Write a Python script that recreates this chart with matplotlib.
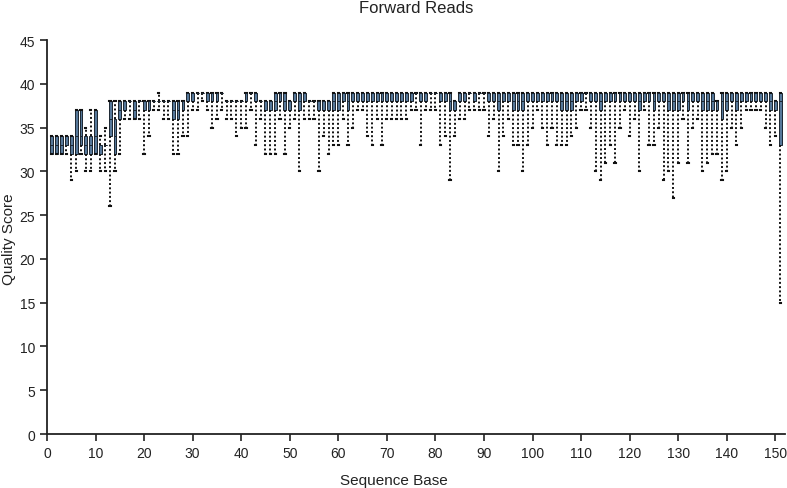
import matplotlib
matplotlib.use("Agg")
import matplotlib.pyplot as plt
import numpy as np

plt.rcParams['font.family'] = ['Liberation Sans', 'DejaVu Sans']

title = "Forward Reads"
xlabel = "Sequence Base"
ylabel = "Quality Score"

positions = list(range(1, 152))
# per-position quality statistics: 2nd pct, 25th, median, 75th, 98th
q02 = [32,32,32,32,29,30,32,30,30,32,30,30,26,30,32,36,36,36,36,32,
       34,37,37,36,36,32,32,34,34,37,37,38,37,35,36,37,36,36,34,35,
       35,37,33,36,32,32,32,36,32,35,36,30,36,36,36,30,34,32,33,33,
       36,33,35,37,37,34,33,36,33,36,36,36,36,36,37,37,33,37,37,37,
       33,34,29,34,36,36,37,37,37,37,34,36,30,34,36,33,33,30,33,35,
       37,35,33,35,33,33,33,34,35,37,37,35,30,29,31,33,31,35,37,34,
       36,30,37,33,33,35,29,30,27,31,36,31,35,36,30,31,32,32,29,30,
       35,33,35,37,37,37,37,35,33,34,15]
q25 = [32,32,32,33,32,32,33,32,32,32,32,33,34,32,36,37,38,36,38,37,
       37,38,38,38,38,36,36,37,38,38,39,39,38,38,38,39,38,38,38,38,
       38,39,38,38,37,37,37,38,37,37,38,37,38,38,38,37,37,37,37,37,
       38,37,38,38,38,38,38,38,38,38,38,38,38,38,38,39,38,38,39,39,
       38,38,37,37,38,38,39,38,39,39,38,38,37,38,38,37,37,37,38,38,
       38,38,38,38,38,37,37,37,38,38,39,38,38,37,38,38,38,38,38,38,
       38,37,38,38,37,38,38,37,37,37,38,37,38,38,37,37,37,37,36,37,
       38,37,38,38,38,38,38,38,37,37,33]
q50 = [33,33,33,33,33,34,34,33,33,34,32,33,36,34,37,38,38,37,38,38,
       38,38,38,38,38,37,37,38,39,39,39,39,39,39,39,39,38,38,38,38,
       39,39,39,38,38,38,38,39,38,38,39,38,39,38,38,38,38,38,38,38,
       39,38,39,39,39,39,39,39,39,39,39,39,39,39,39,39,39,39,39,39,
       39,39,38,38,39,39,39,39,39,39,39,39,38,39,39,38,38,38,39,39,
       39,39,39,39,39,38,38,38,39,39,39,39,39,38,39,39,39,39,39,39,
       39,38,39,39,38,39,39,38,38,38,39,38,39,39,38,38,38,38,38,38,
       39,38,39,39,39,39,39,39,38,38,38]
q75 = [34,34,34,34,34,37,37,34,34,37,33,33,38,36,38,38,38,38,38,38,
       38,38,38,38,38,38,38,38,39,39,39,39,39,39,39,39,38,38,38,38,
       39,39,39,38,38,38,39,39,39,38,39,39,39,38,38,38,38,38,39,39,
       39,39,39,39,39,39,39,39,39,39,39,39,39,39,39,39,39,39,39,39,
       39,39,39,38,39,39,39,39,39,39,39,39,39,39,39,39,39,39,39,39,
       39,39,39,39,39,39,39,39,39,39,39,39,39,39,39,39,39,39,39,39,
       39,39,39,39,39,39,39,39,39,39,39,39,39,39,39,39,39,38,39,39,
       39,39,39,39,39,39,39,39,39,38,39]
q98 = [34,34,34,34,34,37,37,35,37,37,34,35,38,38,38,38,38,38,38,38,
       38,38,39,38,38,38,38,38,39,39,39,39,39,39,39,39,38,38,38,38,
       39,39,39,38,38,38,39,39,39,38,39,39,39,38,38,38,38,38,39,39,
       39,39,39,39,39,39,39,39,39,39,39,39,39,39,39,39,39,39,39,39,
       39,39,39,38,39,39,39,39,39,39,39,39,39,39,39,39,39,39,39,39,
       39,39,39,39,39,39,39,39,39,39,39,39,39,39,39,39,39,39,39,39,
       39,39,39,39,39,39,39,39,39,39,39,39,39,39,39,39,39,38,39,39,
       39,39,39,39,39,39,39,39,39,38,39]

xticks = list(range(0, 151, 10))
yticks = list(range(0, 46, 5))

fig = plt.figure(figsize=(7.87, 4.89), dpi=100)
ax = fig.add_axes([0.0597, 0.1104, 0.9378, 0.8057])

stats = []
for lo, a, m, b, hi in zip(q02, q25, q50, q75, q98):
    stats.append(dict(whislo=lo, q1=a, med=m, q3=b, whishi=hi, fliers=[]))

ax.bxp(stats, positions=positions, widths=0.58, patch_artist=True,
       showfliers=False, manage_ticks=False,
       boxprops=dict(facecolor='#56789a', edgecolor='#1b2631', linewidth=0.7),
       medianprops=dict(color='#1b2631', linewidth=0.7),
       whiskerprops=dict(color='#111111', linewidth=1.4, linestyle=(0, (1.0, 1.2))),
       capprops=dict(color='#111111', linewidth=1.5),
       capwidths=0.25)

ax.set_xlim(0, 152)
ax.set_ylim(0, 45)
ax.set_xticks(xticks)
ax.set_yticks(yticks)
ax.tick_params(axis='both', direction='out', length=5, width=1.2,
               labelsize=10, colors='#222222')
for s in ['top', 'right']:
    ax.spines[s].set_visible(False)
for s in ['left', 'bottom']:
    ax.spines[s].set_linewidth(1.3)
    ax.spines[s].set_color('#222222')

pos = ax.get_position()
cx = (pos.x0 + pos.x1) / 2
fig.text(cx, 0.983, title, ha='center', va='center', fontsize=12, color='#222222')
fig.text(0.5, 0.017, xlabel, ha='center', va='center', fontsize=11, color='#222222')
fig.text(0.012, 0.51, ylabel, ha='center', va='center', rotation=90, fontsize=11, color='#222222')

fig.savefig("out.png", dpi=100)
